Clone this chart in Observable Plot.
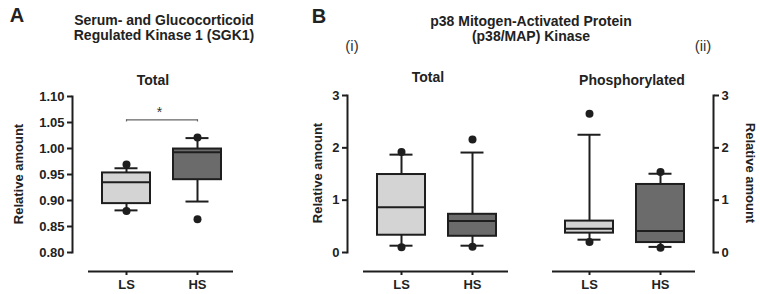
<!DOCTYPE html>
<html><head><meta charset="utf-8">
<script src="https://cdn.jsdelivr.net/npm/d3@7"></script>
<script src="https://cdn.jsdelivr.net/npm/@observablehq/plot@0.6"></script>
<style>
html,body{margin:0;padding:0;background:#fff;}
#fig{position:relative;width:760px;height:294px;font-family:"Liberation Sans",Arial,sans-serif;color:#222;overflow:hidden;}
#fig svg{position:absolute;top:0;}
.t{position:absolute;white-space:nowrap;font-weight:bold;line-height:1;transform:translate(-50%,-50%);}
</style></head><body><div id="fig"></div>
<script>
// ---------- data ----------
const groups = ["LS", "HS"];

// Panel A: SGK1 total
const sgkTicks  = [0.80, 0.85, 0.90, 0.95, 1.00, 1.05, 1.10];
const sgkQ1     = [0.894, 0.940];
const sgkMedian = [0.935, 0.993];
const sgkQ3     = [0.953, 0.999];
const sgkLow    = [0.881, 0.898];
const sgkHigh   = [0.962, 1.020];
const sgkOutLS  = [0.969, 0.880];
const sgkOutHS  = [1.021, 0.864];
const sgkSigLevel = [1.055];
const sgkSigLabel = ["*"];

// Panel B(i): p38 total
const p38Ticks   = [0, 1, 2, 3];
const p38TQ1     = [0.33, 0.31];
const p38TMedian = [0.865, 0.60];
const p38TQ3     = [1.49, 0.73];
const p38TLow    = [0.13, 0.13];
const p38THigh   = [1.87, 1.91];
const p38TOutLS  = [1.92, 0.10];
const p38TOutHS  = [2.16, 0.11];

// Panel B(ii): p38 phosphorylated
const p38PQ1     = [0.37, 0.19];
const p38PMedian = [0.455, 0.41];
const p38PQ3     = [0.60, 1.30];
const p38PLow    = [0.245, 0.107];
const p38PHigh   = [2.25, 1.505];
const p38POutLS  = [2.65, 0.20];
const p38POutHS  = [1.54, 0.09];

// ---------- drawing ----------
const ink = "#1e1e1e";
const boxFills = ["#d4d4d4", "#6b6b6b"];
const fig = document.getElementById("fig");

function rowsOf(q1, med, q3, lo, hi) {
  return groups.map((g, i) => ({group: g, q1: q1[i], med: med[i], q3: q3[i], lo: lo[i], hi: hi[i]}));
}
function outliersOf(outLS, outHS) {
  return [...outLS.map(v => ({group: "LS", value: v})), ...outHS.map(v => ({group: "HS", value: v}))];
}

function panel(o) {
  const rows = rowsOf(o.q1, o.med, o.q3, o.lo, o.hi);
  const outs = outliersOf(o.outLS, o.outHS);
  const svg = Plot.plot({
    width: o.width, height: 294,
    marginLeft: o.marginLeft, marginRight: o.marginRight,
    marginTop: o.marginTop, marginBottom: o.marginBottom,
    x: {domain: groups, paddingInner: 0.33, paddingOuter: 0.29, align: o.align},
    y: {domain: [o.ticks[0], o.ticks[o.ticks.length - 1]]},
    color: {domain: groups, range: boxFills},
    style: {fontFamily: "'Liberation Sans', Arial, sans-serif", fontSize: "13px", fontWeight: "bold", color: "#222", background: "transparent", overflow: "visible"},
    marks: [
      Plot.frame({anchor: o.side, stroke: ink, strokeWidth: 2}),
      Plot.axisY({anchor: o.side, ticks: o.ticks, tickFormat: o.format, tickSize: 5, tickPadding: 3, strokeWidth: 2, stroke: ink, label: null, fontSize: 13, fontWeight: "bold"}),
      Plot.ruleY([o.ticks[0]], {dy: 19, insetLeft: o.lineInsetLeft, insetRight: o.lineInsetRight, stroke: ink, strokeWidth: 2}),
      Plot.axisX({dy: 19, tickSize: 4, tickPadding: 4, strokeWidth: 2, stroke: ink, label: null, fontSize: 13, fontWeight: "bold"}),
      Plot.ruleX(rows, {x: "group", y1: "lo", y2: "hi", stroke: ink, strokeWidth: 2}),
      Plot.barY(rows, {x: "group", y1: "q1", y2: "q3", fill: "group", stroke: ink, strokeWidth: 2}),
      Plot.tickY(rows, {x: "group", y: "med", stroke: ink, strokeWidth: 2}),
      Plot.tickY(rows, {x: "group", y: "hi", insetLeft: 12.5, insetRight: 12.5, stroke: ink, strokeWidth: 2}),
      Plot.tickY(rows, {x: "group", y: "lo", insetLeft: 12.5, insetRight: 12.5, stroke: ink, strokeWidth: 2}),
      Plot.dot(outs, {x: "group", y: "value", r: 4, fill: ink, stroke: "none"}),
      ...(o.extra || [])
    ]
  });
  svg.style.left = o.left + "px";
  fig.appendChild(svg);
}

// Panel A
panel({
  left: 0, width: 260, marginLeft: 72, marginRight: 27, marginTop: 96, marginBottom: 42,
  ticks: sgkTicks, format: d3.format(".2f"), side: "left", align: 0.7,
  lineInsetLeft: 16, lineInsetRight: 0,
  q1: sgkQ1, med: sgkMedian, q3: sgkQ3, lo: sgkLow, hi: sgkHigh, outLS: sgkOutLS, outHS: sgkOutHS,
  extra: [
    Plot.line(groups.map(g => ({group: g, y: sgkSigLevel[0]})), {x: "group", y: "y", stroke: "#666", strokeWidth: 1.2}),
    Plot.ruleX(groups, {x: d => d, y1: sgkSigLevel[0], y2: sgkSigLevel[0] - 0.004, stroke: "#666", strokeWidth: 1.2}),
    Plot.text(sgkSigLabel, {x: () => "LS", y: () => sgkSigLevel[0], text: d => d, dx: 33, dy: -7, fontSize: 14, fontWeight: "normal", fill: "#333"})
  ]
});

// Panel B(i)
panel({
  left: 260, width: 260, marginLeft: 87, marginRight: 12, marginTop: 95, marginBottom: 42,
  ticks: p38Ticks, format: d3.format("d"), side: "left", align: 0.7,
  lineInsetLeft: 16, lineInsetRight: 0,
  q1: p38TQ1, med: p38TMedian, q3: p38TQ3, lo: p38TLow, hi: p38THigh, outLS: p38TOutLS, outHS: p38TOutHS
});

// Panel B(ii)
panel({
  left: 520, width: 240, marginLeft: 32, marginRight: 47, marginTop: 95, marginBottom: 42,
  ticks: p38Ticks, format: d3.format("d"), side: "right", align: 0.3,
  lineInsetLeft: 0, lineInsetRight: 18,
  q1: p38PQ1, med: p38PMedian, q3: p38PQ3, lo: p38PLow, hi: p38PHigh, outLS: p38POutLS, outHS: p38POutHS
});

// ---------- texts ----------
function label(text, x, y, style) {
  const d = document.createElement("div");
  d.className = "t";
  d.textContent = text;
  d.style.left = x + "px";
  d.style.top = y + "px";
  Object.assign(d.style, style || {});
  fig.appendChild(d);
}
label("A", 17, 15, {fontSize: "20px"});
label("Serum- and Glucocorticoid", 164, 20, {fontSize: "14px"});
label("Regulated Kinase 1 (SGK1)", 164, 35, {fontSize: "14px"});
label("Total", 153, 80, {fontSize: "14px"});
label("Relative amount", 18, 174, {fontSize: "13px", transform: "translate(-50%,-50%) rotate(-90deg)"});

label("B", 319, 16, {fontSize: "20px"});
label("p38 Mitogen-Activated Protein", 531, 21, {fontSize: "14px"});
label("(p38/MAP) Kinase", 531, 36, {fontSize: "14px"});
label("(i)", 352, 45, {fontSize: "15px", fontWeight: "normal", color: "#333"});
label("(ii)", 703, 45, {fontSize: "15px", fontWeight: "normal", color: "#333"});
label("Total", 428, 77, {fontSize: "14px"});
label("Phosphorylated", 632, 80, {fontSize: "14px"});
label("Relative amount", 317, 173, {fontSize: "13px", transform: "translate(-50%,-50%) rotate(-90deg)"});
label("Relative amount", 750, 173, {fontSize: "13px", transform: "translate(-50%,-50%) rotate(90deg)"});
</script></body></html>
